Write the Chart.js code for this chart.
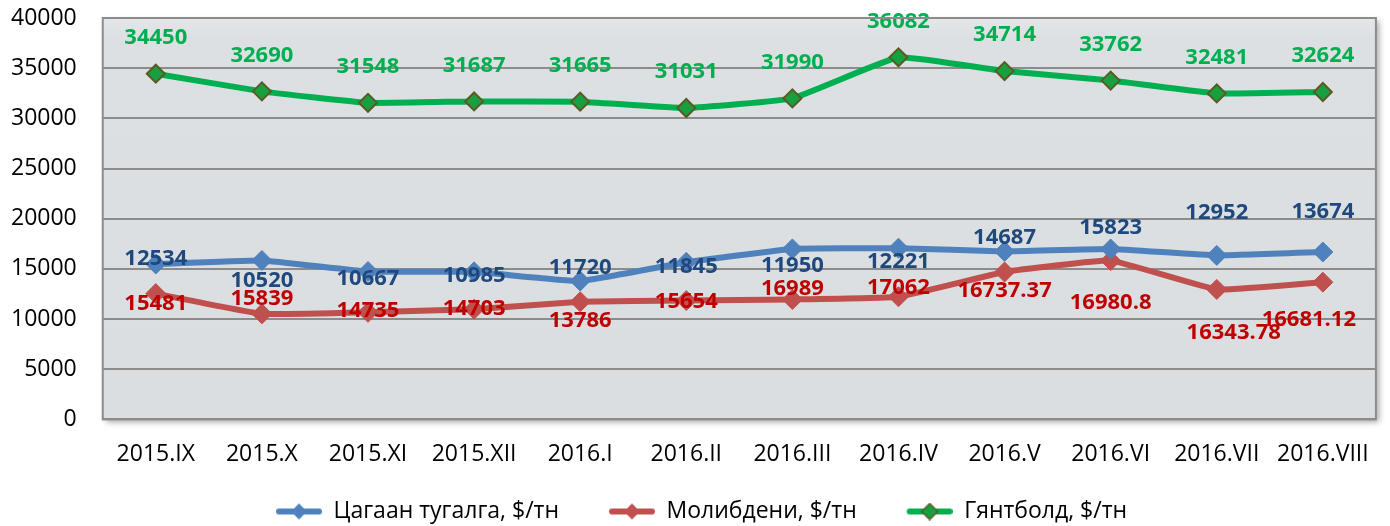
<!DOCTYPE html>
<html>
<head>
<meta charset="utf-8">
<script src="https://cdn.jsdelivr.net/npm/chart.js@4/dist/chart.umd.min.js"></script>
<style>
  html, body { margin: 0; padding: 0; background: #fff; }
  #wrap { width: 1390px; height: 526px; }
</style>
</head>
<body>
<div id="wrap"><canvas id="chart" width="1390" height="526"></canvas></div>
<script>
// months on the x axis
const months = ['2015.IX', '2015.X', '2015.XI', '2015.XII', '2016.I', '2016.II',
    '2016.III', '2016.IV', '2016.V', '2016.VI', '2016.VII', '2016.VIII'];

// series values ($/tn)
const tinValues = [15481, 15839, 14735, 14703, 13786, 15654, 16989, 17062, 16737.37, 16980.8, 16343.78, 16681.12];
const molyValues = [12534, 10520, 10667, 10985, 11720, 11845, 11950, 12221, 14687, 15823, 12952, 13674];
const tungstenValues = [34450, 32690, 31548, 31687, 31665, 31031, 31990, 36082, 34714, 33762, 32481, 32624];

// the data labels as printed in the source (tin and molybdenum labels are swapped there)
const tinLabelText = ['12534', '10520', '10667', '10985', '11720', '11845', '11950', '12221', '14687', '15823', '12952', '13674'];
const molyLabelText = ['15481', '15839', '14735', '14703', '13786', '15654', '16989', '17062', '16737.37', '16980.8', '16343.78', '16681.12'];
const tungstenLabelText = tungstenValues.map(v => String(v));

const yTicks = [0, 5000, 10000, 15000, 20000, 25000, 30000, 35000, 40000];

const FONT = '"Open Sans", "DejaVu Sans", sans-serif';

// small canvas used as legend symbol: line with a diamond on it
// (blank space on the left gives the gap between legend items)
function legendSymbol(lineColor, fill, stroke) {
    const gap = 44;
    const c = document.createElement('canvas');
    c.width = gap + 46; c.height = 18;
    const g = c.getContext('2d');
    g.strokeStyle = lineColor;
    g.lineWidth = 6;
    g.lineCap = 'round';
    g.beginPath(); g.moveTo(gap + 3, 9); g.lineTo(gap + 43, 9); g.stroke();
    g.fillStyle = fill;
    g.beginPath(); g.moveTo(gap + 23, 1); g.lineTo(gap + 31, 9); g.lineTo(gap + 23, 17); g.lineTo(gap + 15, 9); g.closePath();
    g.fill();
    if (stroke) { g.strokeStyle = stroke; g.lineWidth = 1.5; g.stroke(); }
    return c;
}

// plot area background, shadow and frame
const plotBackground = {
    id: 'plotBackground',
    beforeDraw(chart) {
        const { ctx, chartArea: a } = chart;
        ctx.save();
        ctx.shadowColor = 'rgba(0,0,0,0.35)';
        ctx.shadowBlur = 6;
        ctx.shadowOffsetX = 3;
        ctx.shadowOffsetY = 3;
        const grad = ctx.createLinearGradient(0, a.top, 0, a.bottom);
        grad.addColorStop(0, '#E4E7EA');
        grad.addColorStop(0.05, '#DCE0E3');
        grad.addColorStop(1, '#DADEE1');
        ctx.fillStyle = grad;
        ctx.fillRect(a.left, a.top, a.right - a.left, a.bottom - a.top);
        ctx.restore();
    },
    afterDraw(chart) {
        const { ctx, chartArea: a } = chart;
        ctx.save();
        ctx.strokeStyle = '#8C8C8C';
        ctx.lineWidth = 2;
        ctx.strokeRect(a.left, a.top, a.right - a.left, a.bottom - a.top);
        ctx.restore();
    }
};

// nudge the legend a bit to the left, the source isn't quite centred
const legendShift = {
    id: 'legendShift',
    afterLayout(chart) {
        if (chart.legend) {
            chart.legend.left -= 17;
            chart.legend.right -= 17;
        }
    }
};

// draws the bold value labels next to points
const pointLabels = {
    id: 'pointLabels',
    afterDatasetsDraw(chart, args, opts) {
        const { ctx } = chart;
        ctx.save();
        ctx.font = 'bold 22px ' + FONT;
        ctx.textAlign = 'center';
        ctx.textBaseline = 'middle';
        opts.sets.forEach(set => {
            const meta = chart.getDatasetMeta(set.dataset);
            ctx.fillStyle = set.color;
            meta.data.forEach((pt, i) => {
                const dx = set.dx ? set.dx[i] : 0;
                const dy = Array.isArray(set.dy) ? set.dy[i] : set.dy;
                ctx.fillText(set.text[i], pt.x + dx, pt.y + dy);
            });
        });
        ctx.restore();
    }
};

const Y_PAD = 26;

const ctx = document.getElementById('chart').getContext('2d');

new Chart(ctx, {
    type: 'line',
    data: {
        labels: months,
        datasets: [
            {
                label: 'Цагаан тугалга, $/тн',
                data: tinValues,
                borderColor: '#4F81BD',
                backgroundColor: '#4F81BD',
                borderWidth: 6,
                pointStyle: 'rectRot',
                pointRadius: 10,
                pointBackgroundColor: '#4F81BD',
                pointBorderColor: '#4F81BD',
                pointBorderWidth: 1,
                tension: 0.1,
                symbol: legendSymbol('#4F81BD', '#4F81BD')
            },
            {
                label: 'Молибдени, $/тн',
                data: molyValues,
                borderColor: '#C0504D',
                backgroundColor: '#C0504D',
                borderWidth: 6,
                pointStyle: 'rectRot',
                pointRadius: 10,
                pointBackgroundColor: '#C0504D',
                pointBorderColor: '#C0504D',
                pointBorderWidth: 1,
                tension: 0.1,
                symbol: legendSymbol('#C0504D', '#C0504D')
            },
            {
                label: 'Гянтболд, $/тн',
                data: tungstenValues,
                borderColor: '#00B050',
                backgroundColor: '#18A040',
                borderWidth: 6,
                pointStyle: 'rectRot',
                pointRadius: 9,
                pointBackgroundColor: '#18A040',
                pointBorderColor: '#5C5A24',
                pointBorderWidth: 2,
                tension: 0.1,
                symbol: legendSymbol('#00B050', '#18A040', '#5C5A24')
            }
        ]
    },
    options: {
        responsive: false,
        animation: false,
        layout: { autoPadding: false, padding: { left: 11, right: 8, top: 0, bottom: -7 } },
        plugins: {
            title: { display: false },
            tooltip: { enabled: false },
            legend: {
                position: 'bottom',
                labels: {
                    usePointStyle: true,
                    pointStyleWidth: 90,
                    color: '#000',
                    font: { family: FONT, size: 23 },
                    padding: 6,
                    boxHeight: 18,
                    generateLabels(chart) {
                        return chart.data.datasets.map((ds, i) => ({
                            text: ds.label,
                            pointStyle: ds.symbol,
                            fillStyle: ds.borderColor,
                            strokeStyle: ds.borderColor,
                            lineWidth: 0,
                            hidden: false,
                            datasetIndex: i
                        }));
                    }
                }
            },
            pointLabels: {
                sets: [
                    { dataset: 0, color: '#1F497D', text: tinLabelText,
                      dy: [-5, 20, 7, 4, -13, 4, 17, 14, -14, -21, -43, -40] },
                    { dataset: 1, color: '#C00000', text: molyLabelText,
                      dy: [10, -15, -2, 0, 19, 1, -11, -9, 19, 42, 43, 38],
                      dx: [0, 0, 0, 0, 0, 0, 0, 0, 0, 0, 17, -14] },
                    { dataset: 2, color: '#00B050', text: tungstenLabelText, dy: -36 }
                ]
            }
        },
        scales: {
            x: {
                offset: true,
                grid: { display: false, drawTicks: false },
                border: { display: false },
                afterFit(axis) { axis.height += 5; },
                ticks: {
                    color: '#000',
                    font: { family: FONT, size: 23 },
                    padding: 21,
                    maxRotation: 0,
                    autoSkip: false
                }
            },
            y: {
                min: 0,
                max: 40000,
                afterBuildTicks(axis) {
                    axis.ticks = yTicks.map(v => ({ value: v }));
                },
                // v4 counts the tick padding twice for the width and adds it to the top
                afterFit(axis) {
                    axis.width -= Y_PAD;
                    axis.paddingTop = 18;
                    axis.paddingBottom = 14;
                },
                grid: { color: '#8C8C8C', lineWidth: 2, drawTicks: false },
                border: { display: false },
                ticks: {
                    color: '#000',
                    font: { family: FONT, size: 23 },
                    padding: Y_PAD,
                    callback: v => String(v)
                }
            }
        }
    },
    plugins: [plotBackground, pointLabels, legendShift]
});
</script>
</body>
</html>
